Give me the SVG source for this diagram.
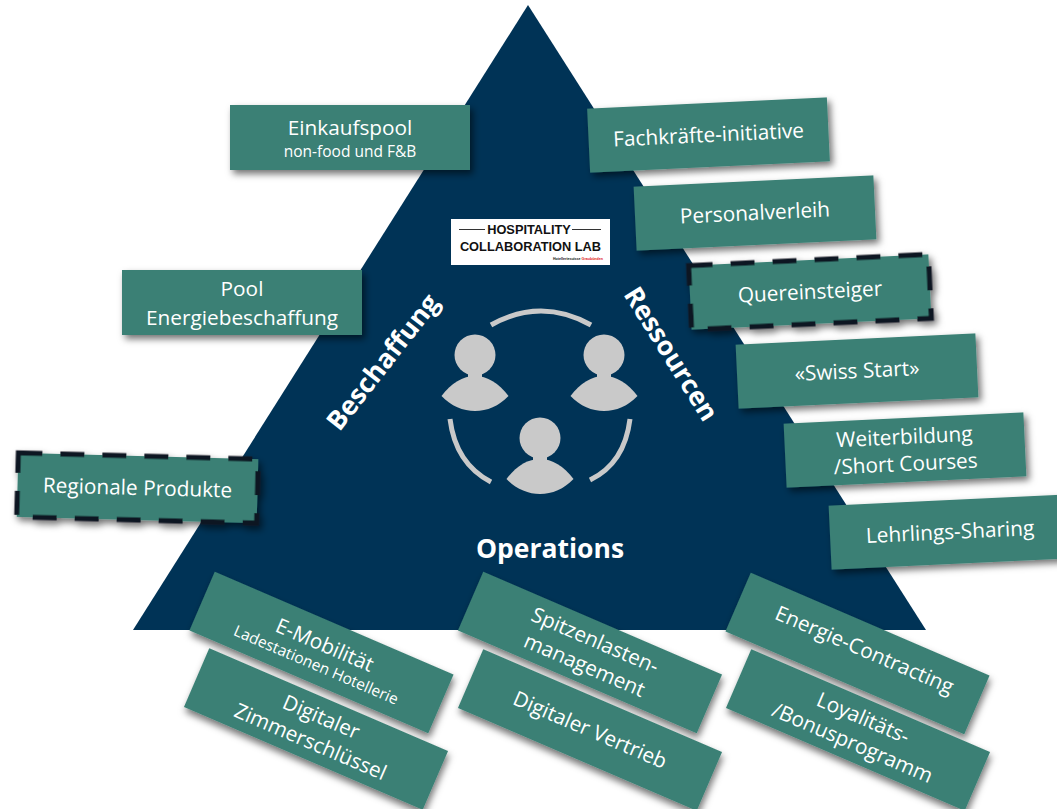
<svg xmlns="http://www.w3.org/2000/svg" width="1057" height="809" viewBox="0 0 1057 809">
<style>
text{font-family:"Open Sans","Noto Sans","Liberation Sans",sans-serif;fill:#fff;text-anchor:middle}
.box{fill:#3b8074;filter:url(#sh)}
.dash{stroke:#0f1722;stroke-width:5;stroke-dasharray:24 18;fill:#3b8074}
.t{font-size:20.800px}
.s{font-size:15.500px}
.h{font-weight:700;font-size:26.500px}
.ic{fill:#c9c9c9}
.arc{fill:none;stroke:#c9c9c9;stroke-width:5}
</style>
<defs>
<filter id="sh" x="-10%" y="-20%" width="125%" height="160%"><feDropShadow dx="3" dy="4" stdDeviation="3.500" flood-color="#000" flood-opacity=".55"/></filter>
<g id="person"><circle cx="0" cy="-21" r="20.500"/><rect x="-7" y="-4" width="14" height="8"/><path d="M-33.500 20C-24 7-12 0 0 0S24 7 33.500 20C24 30 12 35 0 35S-24 30-33.500 20Z"/></g>
</defs>
<polygon id="triangle" points="528,5 926,630 133,630" fill="#003356"/>
<g id="logo"><rect x="451" y="219" width="159" height="46" fill="#fff"/>
<path d="M459 229.500H485M572 229.500H601" stroke="#333" stroke-width="1"/>
<text x="529" y="234" font-size="12.800" font-weight="700" style="font-family:'Liberation Sans',Arial,sans-serif;fill:#111">HOSPITALITY</text>
<text x="530.500" y="250.500" font-size="12.800" font-weight="700" style="font-family:'Liberation Sans',Arial,sans-serif;fill:#111">COLLABORATION LAB</text>
<text x="578" y="260" font-size="3.600" font-weight="700" style="font-family:'Liberation Sans',Arial,sans-serif;fill:#111">Hotelleriesuisse <tspan style="fill:#e01010">Graubünden</tspan></text></g>
<g id="icon" class="ic">
<use href="#person" x="475" y="376"/><use href="#person" x="604" y="376"/><use href="#person" x="540" y="459"/>
<path class="arc" d="M491 325Q541 297 591 325"/>
<path class="arc" d="M450 419Q455.500 463.500 491 482"/>
<path class="arc" d="M630 419Q624.500 463.500 590 480"/>
</g>
<text id="l-beschaffung" class="h" transform="translate(383 362) rotate(-52)" y="9">Beschaffung</text>
<text id="l-ressourcen" class="h" transform="translate(671 354) rotate(58)" y="9">Ressourcen</text>
<text id="l-operations" class="h" x="550" y="558">Operations</text>
<g id="connectors"></g>
<g id="n1"><rect class="box" x="230" y="105" width="240" height="65"/><text class="t" x="350" y="135">Einkaufspool</text><text class="s" x="350" y="157">non-food und F&amp;B</text></g>
<g id="n2"><rect class="box" x="122" y="270" width="240" height="65"/><text class="t" x="242" y="296">Pool</text><text class="t" x="242" y="325">Energiebeschaffung</text></g>
<g id="n3" transform="translate(137.500 488) rotate(1.500)"><rect class="box dash" x="-120" y="-32" width="240" height="64"/><text class="t" y="7">Regionale Produkte</text></g>
<g id="n4" transform="translate(708.500 135) rotate(-2.700)"><rect class="box" x="-120" y="-32" width="240" height="64"/><text class="t" y="7">Fachkräfte-initiative</text></g>
<g id="n5" transform="translate(755 213) rotate(-2.700)"><rect class="box" x="-120" y="-32" width="240" height="64"/><text class="t" y="7">Personalverleih</text></g>
<g id="n6" transform="translate(810 292) rotate(-2.700)"><rect class="box dash" x="-120" y="-32" width="240" height="64"/><text class="t" y="7">Quereinsteiger</text></g>
<g id="n7" transform="translate(857 371) rotate(-2.700)"><rect class="box" x="-120" y="-32" width="240" height="64"/><text class="t" y="7">«Swiss Start»</text></g>
<g id="n8" transform="translate(905 450) rotate(-2.700)"><rect class="box" x="-120" y="-32" width="240" height="64"/><text class="t" y="-6">Weiterbildung</text><text class="t" y="21">/Short Courses</text></g>
<g id="n9" transform="translate(950 532) rotate(-2.700)"><rect class="box" x="-120" y="-32" width="240" height="64"/><text class="t" y="7">Lehrlings-Sharing</text></g>
<g id="n10" transform="translate(321.500 652.500) rotate(23.300)"><rect class="box" x="-130" y="-32" width="260" height="64"/><text class="t" y="-1">E-Mobilität</text><text class="s" y="19">Ladestationen Hotellerie</text></g>
<g id="n11" transform="translate(316 729) rotate(23.300)"><rect class="box" x="-130" y="-32" width="260" height="64"/><text class="t" y="-6">Digitaler</text><text class="t" y="21">Zimmerschlüssel</text></g>
<g id="n12" transform="translate(590 652.500) rotate(23.300)"><rect class="box" x="-130" y="-32" width="260" height="64"/><text class="t" y="-6">Spitzenlasten-</text><text class="t" y="21">management</text></g>
<g id="n13" transform="translate(590 730) rotate(23.300)"><rect class="box" x="-130" y="-32" width="260" height="64"/><text class="t" y="7">Digitaler Vertrieb</text></g>
<g id="n14" transform="translate(857.500 653.500) rotate(23.300)"><rect class="box" x="-130" y="-32" width="260" height="64"/><text class="t" x="5" y="1">Energie-Contracting</text></g>
<g id="n15" transform="translate(858 730) rotate(23.300)"><rect class="box" x="-130" y="-32" width="260" height="64"/><text class="t" y="-6">Loyalitäts-</text><text class="t" y="21">/Bonusprogramm</text></g>
</svg>
